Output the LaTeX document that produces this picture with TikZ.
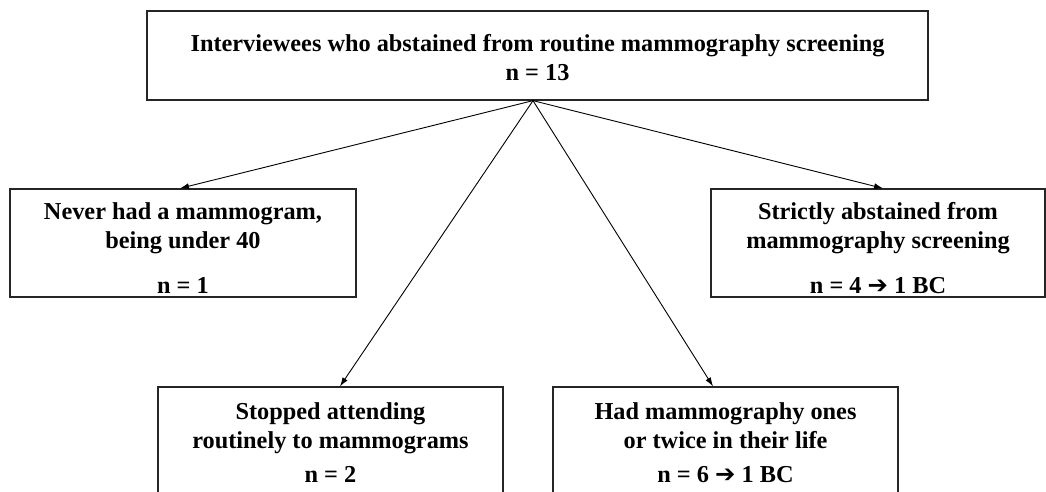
\documentclass[tikz,border=0pt]{standalone}
\usepackage{fontspec}
\setmainfont{Liberation Serif}
\usetikzlibrary{arrows.meta}
\tikzset{
  box/.style={draw=black!85, line width=1.3pt, fill=white, rectangle, inner sep=0pt},
  txt/.style={align=center, inner sep=0pt, anchor=base, font=\fontsize{24.3}{29.5}\selectfont\bfseries},
  conn/.style={draw=black, line width=0.9pt, -{Latex[length=9pt,width=6pt]}}
}
\begin{document}
\begin{tikzpicture}[x=1pt,y=-1pt]
\useasboundingbox (0,0) rectangle (1046,492);
\clip (0,0) rectangle (1046,492);
% boxes
\node[box, minimum width=781, minimum height=89] (top) at (537.5,55.5) {};
\node[box, minimum width=346, minimum height=108] (l) at (183,243) {};
\node[box, minimum width=334, minimum height=108] (r) at (878,243) {};
\node[box, minimum width=345, minimum height=112] (bl) at (330.5,443) {};
\node[box, minimum width=345, minimum height=112] (br) at (725.5,443) {};
% texts (anchor base = baseline of the last line)
\node[txt] (topt) at (537.5,81) {Interviewees who abstained from routine mammography screening\\ n = 13};
\node[txt] (lt) at (183,293) {Never had a mammogram,\\ being under 40\\[15pt] n = 1};
\node[txt] (rt) at (878,293) {Strictly abstained from\\ mammography screening\\[15pt] n = 4 {\fontspec{DejaVu Sans}\char"2794} 1 BC};
\node[txt] (blt) at (330.5,482) {Stopped attending\\ routinely to mammograms\\[4pt] n = 2};
\node[txt] (brt) at (725.5,482) {Had mammography ones\\ or twice in their life\\[4pt] n = 6 {\fontspec{DejaVu Sans}\char"2794} 1 BC};
% connectors
\coordinate (apex) at ([xshift=-4.5pt]top.south);
\draw[conn] (apex) -- ([xshift=-3pt]l.north);
\draw[conn] (apex) -- ([xshift=5pt]r.north);
\draw[conn] (apex) -- ([xshift=9.5pt]bl.north);
\draw[conn] (apex) -- ([xshift=-12.5pt]br.north);
\end{tikzpicture}
\end{document}
